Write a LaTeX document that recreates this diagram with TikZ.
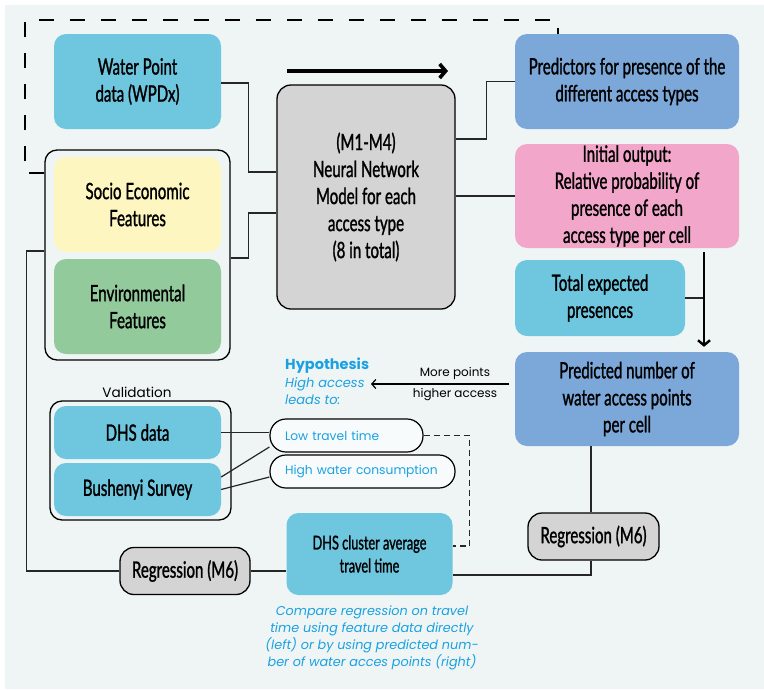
\documentclass[tikz,border=0pt]{standalone}
\usepackage{fontspec}
\setmainfont{Poppins}
\newfontfamily\cond[FakeStretch=0.67,FakeBold=1.2]{Lato}
\newfontfamily\geo{Poppins}
\usetikzlibrary{arrows.meta,calc}
\definecolor{bg}{HTML}{EEF5F4}
\definecolor{lblue}{HTML}{6EC6DF}
\definecolor{mblue}{HTML}{7BA7D9}
\definecolor{pinkc}{HTML}{F2A6CA}
\definecolor{yel}{HTML}{FEF6C0}
\definecolor{grn}{HTML}{93CA9C}
\definecolor{gry}{HTML}{D4D4D4}
\definecolor{txtblue}{HTML}{1BA1E2}
\tikzset{
  box/.style={rounded corners=12pt, inner sep=0pt, align=center,
    font={\cond\fontsize{22.5}{27}\selectfont}},
  grpbox/.style={rounded corners=12pt, draw=black, line width=1.3pt, inner sep=0pt},
  pill/.style={rounded corners=16pt, draw=black, line width=1.2pt, fill=white!60!bg,
    inner sep=0pt, text=txtblue, font={\geo\fontsize{12.3}{16}\selectfont}},
  conn/.style={line width=1.2pt, draw=black!85},
  small/.style={font={\geo\fontsize{12}{17}\selectfont}, inner sep=0pt},
}
\begin{document}
\begin{tikzpicture}[x=1pt,y=-1pt]
\useasboundingbox (0,0) rectangle (764,689);
\fill[bg] (5,5) rectangle (764,689);

% group boxes
\node[grpbox, minimum width=185, minimum height=210] (grp) at (137.5,255) {};
\node[grpbox, minimum width=181, minimum height=119] (val) at (140.5,460.5) {};

% left boxes
\node[box, fill=lblue, minimum width=167, minimum height=95] (wp) at (137.5,81.5) {Water Point\\data (WPDx)};
\node[box, fill=yel, minimum width=167, minimum height=95] (soc) at (137.5,204.5) {Socio Economic\\Features};
\node[box, fill=grn, minimum width=167, minimum height=95] (env) at (137.5,306.5) {Environmental\\Features};

% central model
\node[box, fill=gry, draw=black, line width=1.3pt, rounded corners=14pt,
  minimum width=178, minimum height=224] (nn) at (366,197)
  {(M1-M4)\\Neural Network\\Model for each\\access type\\(8 in total)};

% right boxes
\node[box, fill=mblue, minimum width=224, minimum height=95] (pred) at (627,81.5) {Predictors for presence of the\\different access types};
\node[box, fill=pinkc, minimum width=224, minimum height=104] (pink) at (627,196) {Initial output:\\Relative probability of\\presence of each\\access type per cell};
\node[box, fill=lblue, minimum width=170, minimum height=76] (tot) at (600,298) {Total expected\\presences};
\node[box, fill=mblue, minimum width=224, minimum height=94] (pnum) at (627,399) {Predicted number of\\water access points\\per cell};

% regressions and DHS cluster
\node[box, fill=gry, draw=black, line width=1.3pt, rounded corners=14pt,
  minimum width=131, minimum height=47] (reg2) at (593.5,536.5) {Regression (M6)};
\node[box, fill=lblue, minimum width=166, minimum height=82,
  font={\cond\fontsize{19}{23}\selectfont}] (dhsc) at (369.5,554) {DHS cluster average\\travel time};
\node[box, fill=gry, draw=black, line width=1.3pt, rounded corners=14pt,
  minimum width=130, minimum height=47] (reg1) at (185,571) {Regression (M6)};

% validation
\node[small, font={\geo\fontsize{13.6}{16}\selectfont}] (vallab) at (137,392) {Validation};
\node[box, fill=lblue, minimum width=167, minimum height=53] (dhs) at (137.5,432.5) {DHS data};
\node[box, fill=lblue, minimum width=167, minimum height=53] (bush) at (137.5,489.5) {Bushenyi Survey};

% hypothesis pills
\node[pill, minimum width=153, minimum height=33, text width=123, align=left] (low) at (346.5,435.5) {Low travel time};
\node[pill, minimum width=185, minimum height=33, text width=155, align=left] (high) at (362.5,471.5) {High water consumption};

% hypothesis text
\node[small, anchor=north west, align=left, text=txtblue, font={\geo\fontsize{13}{17.5}\selectfont}] (hyp) at (285,358)
  {{\fontsize{14.5}{17.5}\selectfont\textbf{Hypothesis}}\\\textit{High access}\\\textit{leads to:}};
\coordinate (ha) at (509,384);
\coordinate (hb) at (371,384);
\draw[line width=1.2pt, -{Straight Barb[length=4pt,width=9pt]}] (ha) -- (hb);
\node[small] (mp) at (455,373) {More points};
\node[small] (ha2) at (455,395) {higher access};

% bottom text
\node[small, align=center, text=txtblue, font={\geo\fontsize{12.8}{17}\selectfont\itshape}] (cmp) at (372,638)
  {Compare regression on travel\\time using feature data directly\\(left) or by using predicted num-\\ber of water acces points (right)};

% thick top arrow
\coordinate (ta) at (287,71);
\coordinate (tb) at (448,71);
\draw[line width=3.6pt, -{Straight Barb[length=6pt,width=14pt]}] (ta) -- (tb);

% connectors
\draw[conn] (wp.east) ++(0,1.5) -- ++(27,0) |- ([yshift=25]nn.west);
\draw[conn] ([yshift=-3]grp.east) -- ++(18,0) |- ([yshift=-16]nn.west);
\draw[conn] ([yshift=58]nn.east) -- ++(31,0) |- (pred.west);
\draw[conn] (nn.east |- pink.west) -- (pink.west);
\draw[line width=2.4pt, -{Straight Barb[length=5pt,width=12pt]}, shorten <=4pt, shorten >=5pt]
  ([xshift=77]pink.south) -- ([xshift=77]pnum.north);
\draw[conn] (tot.east) -- ++(18,0);
\draw[conn] (reg2.north -| 591,0) -- (pnum.south -| 591,0);
\draw[conn] (reg2.south -| 591,0) |- ([yshift=-21]dhsc.east);
\draw[conn, dashed, dash pattern=on 6pt off 4pt] (low.east) -- ++(46,0) |- ([yshift=8]dhsc.east);
\draw[conn] (reg1.east) -- (reg1.east -| dhsc.west);
\draw[conn] (reg1.west) -- ++(-93,0) |- ([yshift=4]grp.west);
\draw[line width=1.2pt, dash pattern=on 15pt off 16pt] ([yshift=82]grp.west) -| (25,20) -| ([xshift=-69]pred.north);
\draw[conn] (dhs.east) -- (dhs.east -| low.west);
\draw[conn] ([yshift=12.5]bush.east) -- ([yshift=-11.5]low.west);
\draw[conn] (bush.east) -- ([yshift=-5.5]high.west);
\end{tikzpicture}
\end{document}
